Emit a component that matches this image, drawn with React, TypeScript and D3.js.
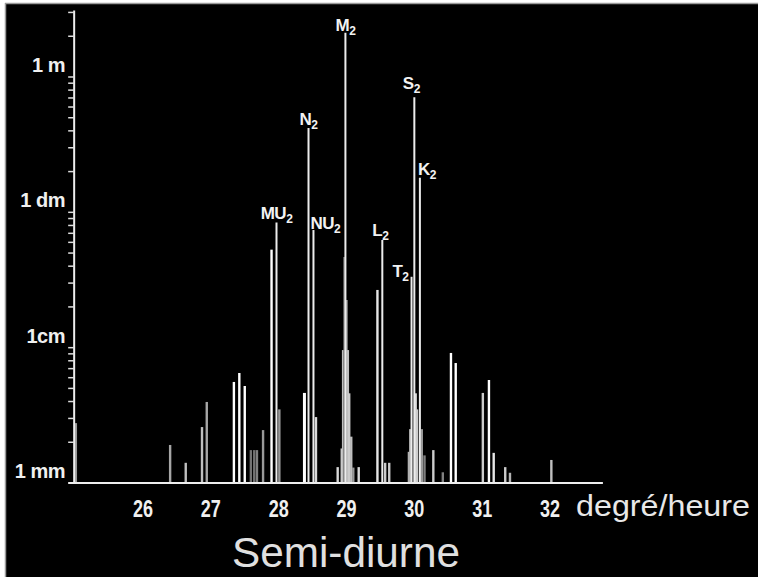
import React from "react";
import * as d3 from "d3";

// ---- data ----
// labelled tidal constituents: frequency (degrees/hour) and amplitude (m)
const namedNames = ["MU", "N", "NU", "M", "L", "T", "S", "K"];
const namedFreq = [27.968, 28.44, 28.513, 28.984, 29.528, 29.959, 30.0, 30.082];
const namedAmp = [0.084, 0.42, 0.074, 2.12, 0.0625, 0.0334, 0.71, 0.18];

// unlabelled lines: frequency, amplitude, brightness
const minorFreq = [
  25.01, 26.4, 26.63, 26.87, 26.94, 27.34, 27.42, 27.5, 27.59, 27.64, 27.68, 27.77,
  27.895, 28.01, 28.38, 28.55, 28.87,
  28.93, 28.95, 28.97, 29.0, 29.02, 29.04, 29.07, 29.1,
  29.18, 29.456, 29.57, 29.63,
  29.92, 29.94, 30.02, 30.04, 30.11, 30.15,
  30.28, 30.42, 30.54, 30.61, 31.01, 31.1, 31.17, 31.34, 31.41, 32.02,
];
const minorAmp = [
  0.00277, 0.00191, 0.00141, 0.00259, 0.00397, 0.00558, 0.0065, 0.00521, 0.00175, 0.00175, 0.00175, 0.00246,
  0.053, 0.0035, 0.00463, 0.00307, 0.00131,
  0.0018, 0.0096, 0.0468, 0.0225, 0.0096, 0.0046, 0.0022, 0.0013,
  0.00131, 0.0267, 0.00141, 0.00141,
  0.0017, 0.0025, 0.0046, 0.0035, 0.0025, 0.0016,
  0.00175, 0.0012, 0.00914, 0.0077, 0.00463, 0.00577, 0.00167, 0.00131, 0.00119, 0.00148,
];
const minorTone = [
  0.6, 0.65, 0.75, 0.75, 0.65, 1, 1, 1, 0.45, 0.45, 0.5, 0.6,
  1, 0.6, 1, 0.85, 0.85,
  0.8, 0.75, 0.45, 0.6, 0.75, 0.8, 0.75, 0.6,
  0.85, 0.9, 0.8, 0.8,
  0.7, 0.7, 0.85, 0.8, 0.6, 0.5,
  0.8, 0.5, 1, 1, 0.8, 1, 0.9, 0.8, 0.7, 0.75,
];

const xTickValues = [26, 27, 28, 29, 30, 31, 32];
const yTickValues = [1, 0.1, 0.01, 0.001];
const yTickTexts = ["1 m", "1 dm", "1cm", "1 mm"];

const xTitle = "degré/heure";
const chartTitle = "Semi-diurne";

// label placement (layout, kept apart from data)
const labelLayout: Record<string, { dx: number; dy: number; anchor: string }> = {
  MU: { dx: 0, dy: -4, anchor: "middle" },
  N: { dx: 0, dy: -3, anchor: "middle" },
  NU: { dx: -3, dy: -1, anchor: "start" },
  M: { dx: 0, dy: -2, anchor: "middle" },
  L: { dx: -2, dy: -4, anchor: "middle" },
  T: { dx: -3, dy: 0, anchor: "end" },
  S: { dx: -3, dy: -8, anchor: "middle" },
  K: { dx: -2, dy: -3, anchor: "start" },
};

const W = 758;
const H = 577;
const sans = "'Liberation Sans', Arial, sans-serif";

export default function App() {
  const x = d3.scaleLinear().domain([26, 32]).range([143, 550]);
  const y = d3.scaleLog().domain([0.001, 3.1]).range([483, 10.5]);
  const axisX = x(25) - 1;
  const base = y(0.001);
  const yTicks = y.ticks();
  const gray = (t: number) => {
    const v = Math.round(255 * t);
    return `rgb(${v},${v},${v})`;
  };

  return (
    <svg width={W} height={H} style={{ position: "absolute", left: 0, top: 0, display: "block" }}>
      <rect x={0} y={0} width={W} height={H} fill="#fff" />
      <rect x={5} y={3} width={W - 5} height={H - 3} fill="#000" />
      <line x1={5} y1={3.5} x2={W} y2={3.5} stroke="#9a9a9a" strokeWidth={1.5} />
      <line x1={5.5} y1={3} x2={5.5} y2={H} stroke="#9a9a9a" strokeWidth={1.5} />

      {/* minor lines */}
      {minorFreq.map((f, i) => (
        <line
          key={"m" + i}
          x1={x(f)}
          x2={x(f)}
          y1={base}
          y2={y(minorAmp[i])}
          stroke={gray(minorTone[i])}
          strokeWidth={f === 28.38 ? 3 : 2.4}
        />
      ))}

      {/* named constituents */}
      {namedFreq.map((f, i) => (
        <line key={"n" + i} x1={x(f)} x2={x(f)} y1={base} y2={y(namedAmp[i])} stroke="#ececec" strokeWidth={2} />
      ))}
      {namedFreq.map((f, i) => {
        const name = namedNames[i];
        const lay = labelLayout[name];
        return (
          <text
            key={"l" + i}
            x={x(f) + lay.dx}
            y={y(namedAmp[i]) + lay.dy}
            textAnchor={lay.anchor}
            fill="#f2f2f2"
            fontFamily={sans}
            fontWeight="bold"
            fontSize={17}
            letterSpacing={-0.5}
          >
            {name}
            <tspan fontSize={12} dy={4}>2</tspan>
          </text>
        );
      })}

      {/* axes */}
      <line x1={axisX} x2={axisX} y1={y(3.1)} y2={base} stroke="#eee" strokeWidth={2} />
      {yTicks.map((t, i) => (
        <line key={"yt" + i} x1={axisX - 6} x2={axisX} y1={y(t)} y2={y(t)} stroke="#ddd" strokeWidth={1.5} />
      ))}
      <line x1={x(24.9)} x2={x(32.78)} y1={base} y2={base} stroke="#eee" strokeWidth={2} />
      {yTickValues.map((v, i) => (
        <text
          key={"yl" + i}
          x={65}
          y={y(v) - 5}
          textAnchor="end"
          fill="#f0f0f0"
          fontFamily={sans}
          fontWeight="bold"
          fontSize={20}
          letterSpacing={-0.5}
        >
          {yTickTexts[i]}
        </text>
      ))}
      {xTickValues.map((v) => (
        <g key={"xl" + v} transform={`translate(${x(v)},517) scale(0.75,1)`}>
          <text x={0} y={0} textAnchor="middle" fill="#f0f0f0" fontFamily={sans} fontWeight="bold" fontSize={24}>
            {v}
          </text>
        </g>
      ))}
      <text x={576} y={516} fill="#e8e8e8" fontFamily={sans} fontSize={30} textLength={174} lengthAdjust="spacingAndGlyphs">
        {xTitle}
      </text>
      <text x={232} y={567} fill="#e0e0e0" fontFamily={sans} fontSize={43} textLength={228} lengthAdjust="spacingAndGlyphs">
        {chartTitle}
      </text>
    </svg>
  );
}
